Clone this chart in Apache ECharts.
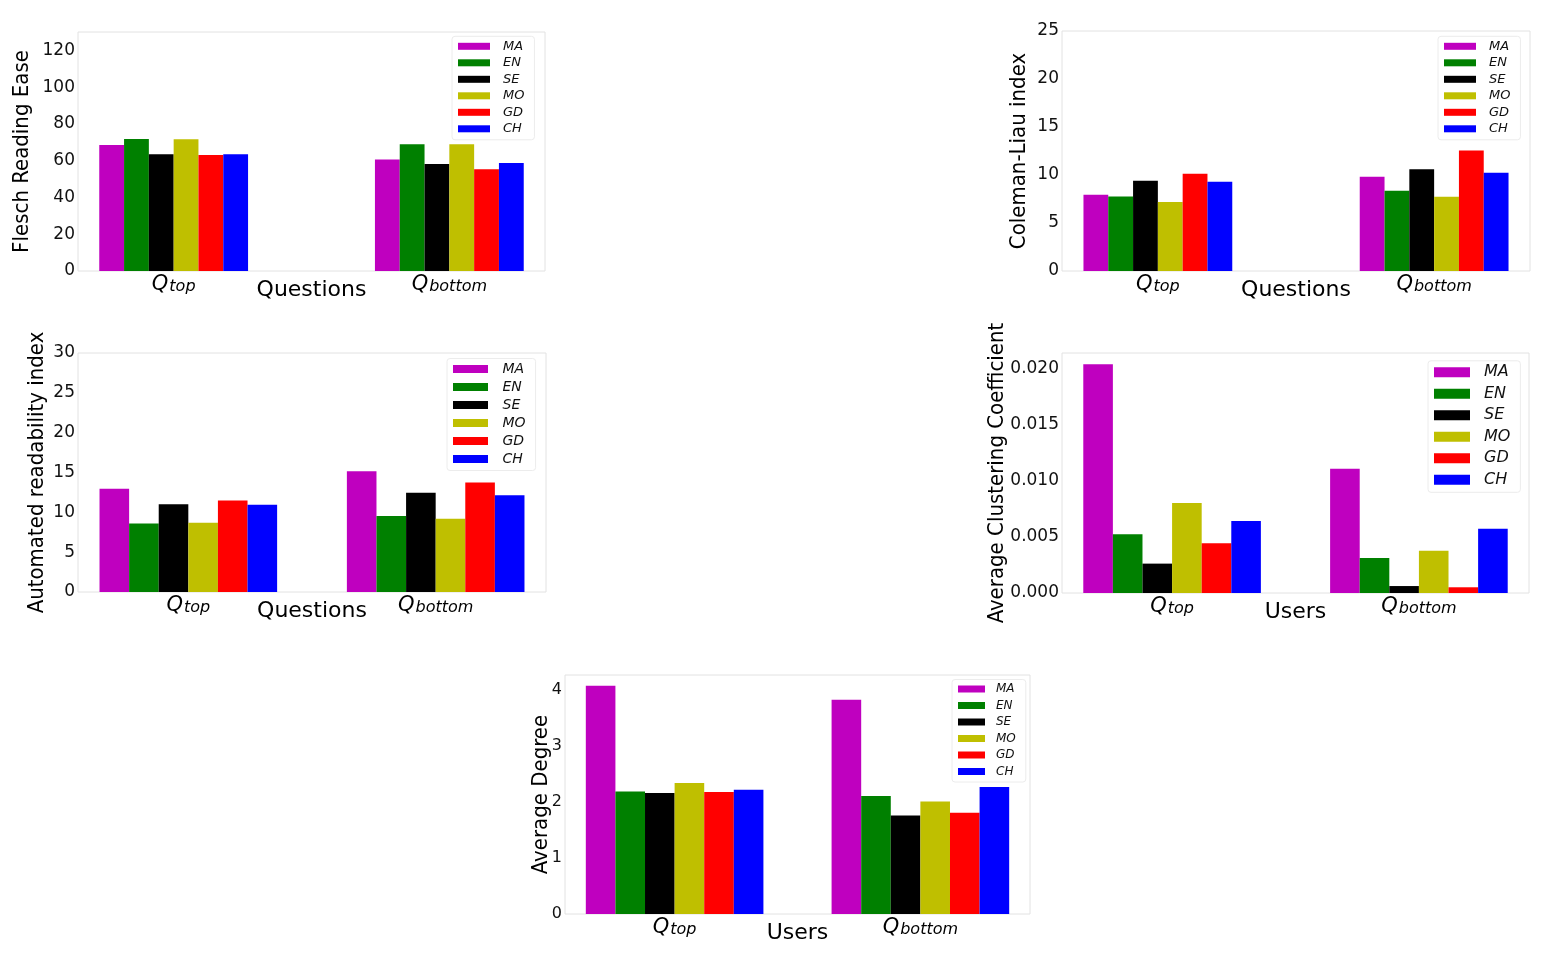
<!DOCTYPE html>
<html><head><meta charset="utf-8">
<script src="https://cdn.jsdelivr.net/npm/echarts@6/dist/echarts.min.js"></script>
<style>html,body{margin:0;padding:0;background:#fff}#c{width:1549px;height:961px}</style>
</head><body><div id="c"></div>
<script>
const categories = ['Q_top', 'Q_bottom'];
const seriesNames = ['MA', 'EN', 'SE', 'MO', 'GD', 'CH'];

const fleschTop = [68.5, 71.8, 63.5, 71.6, 63.1, 63.5];
const fleschBottom = [60.7, 68.9, 58.2, 68.9, 55.3, 58.7];
const fleschTicks = [0, 20, 40, 60, 80, 100, 120];

const colemanTop = [7.94, 7.76, 9.41, 7.2, 10.14, 9.3];
const colemanBottom = [9.83, 8.36, 10.6, 7.73, 12.55, 10.24];
const colemanTicks = [0, 5, 10, 15, 20, 25];

const ariTop = [12.97, 8.6, 11.0, 8.69, 11.5, 10.95];
const ariBottom = [15.15, 9.53, 12.46, 9.19, 13.76, 12.13];
const ariTicks = [0, 5, 10, 15, 20, 25, 30];

const clusterTop = [0.0204, 0.00523, 0.00262, 0.00802, 0.00443, 0.00642];
const clusterBottom = [0.01108, 0.00312, 0.00062, 0.00377, 0.00051, 0.00574];
const clusterTicks = [0, 0.005, 0.01, 0.015, 0.02];

const degreeTop = [4.08, 2.19, 2.16, 2.34, 2.18, 2.22];
const degreeBottom = [3.83, 2.11, 1.76, 2.01, 1.81, 2.27];
const degreeTicks = [0, 1, 2, 3, 4];

const colors = ['#bf00bf', '#008000', '#000000', '#bfbf00', '#ff0000', '#0000ff'];
const FONT = "'DejaVu Sans', sans-serif";
const COND = "'DejaVu Sans Condensed', 'DejaVu Sans', sans-serif";

const panels = [
  { top: fleschTop, bottom: fleschBottom, ticks: fleschTicks, ymax: 130, yName: 'Flesch Reading Ease', xName: 'Questions',
    grid: { left: 78, top: 32, width: 467, height: 239 }, xr: 0.347, bw: 24.8, yGap: 45, tickSize: 17, dec: 0,
    lg: { left: 452, top: 36.3, iw: 32, ih: 7, fs: 13, lh: 14, gap: 2.5, tp: 8 } },
  { top: colemanTop, bottom: colemanBottom, ticks: colemanTicks, ymax: 25, yName: 'Coleman-Liau index', xName: 'Questions',
    grid: { left: 1062, top: 31, width: 468, height: 240 }, xr: 0.347, bw: 24.8, yGap: 32, tickSize: 17, dec: 0,
    lg: { left: 1438, top: 36.3, iw: 32, ih: 7, fs: 13, lh: 14, gap: 2.5, tp: 8 } },
  { top: ariTop, bottom: ariBottom, ticks: ariTicks, ymax: 30, yName: 'Automated readability index', xName: 'Questions',
    grid: { left: 78, top: 353, width: 468, height: 239 }, xr: 0.446, bw: 29.6, yGap: 30, tickSize: 17, dec: 0,
    lg: { left: 447, top: 358.5, iw: 35, ih: 8, fs: 14, lh: 15, gap: 3, tp: 9.5 } },
  { top: clusterTop, bottom: clusterBottom, ticks: clusterTicks, ymax: 0.0214, yName: 'Average Clustering Coefficient', xName: 'Users',
    grid: { left: 1062, top: 353, width: 467, height: 240 }, xr: 0.446, bw: 29.6, yGap: 54, tickSize: 17, dec: 3,
    lg: { left: 1428, top: 360.8, iw: 36, ih: 10, fs: 16, lh: 17, gap: 4.5, tp: 9 } },
  { top: degreeTop, bottom: degreeBottom, ticks: degreeTicks, ymax: 4.27, yName: 'Average Degree', xName: 'Users',
    grid: { left: 565, top: 675, width: 465, height: 239 }, xr: 0.446, bw: 29.6, yGap: 13, tickSize: 16, dec: 0,
    lg: { left: 952, top: 679.5, iw: 27, ih: 7, fs: 12, lh: 13, gap: 3.5, tp: 6 } }
];

const grids = [], xAxes = [], yAxes = [], legends = [], series = [];
panels.forEach((p, k) => {
  grids.push(Object.assign({ show: true, borderColor: '#e2e2e2', borderWidth: 1, backgroundColor: 'transparent' }, p.grid));
  xAxes.push({
    type: 'value', gridIndex: k, min: -p.xr, max: 1 + p.xr,
    axisLine: { show: false }, axisTick: { show: false }, splitLine: { show: false },
    axisLabel: {
      customValues: [0, 1], margin: 3,
      formatter: v => { const c = categories[Math.round(v)]; const parts = c.split('_'); return '{q|' + parts[0] + '}{s|' + parts[1] + '}'; },
      rich: {
        q: { fontSize: 21, fontStyle: 'italic', fontFamily: FONT, color: '#000', lineHeight: 21, verticalAlign: 'bottom' },
        s: { fontSize: 16, fontStyle: 'italic', fontFamily: FONT, color: '#000', lineHeight: 13, verticalAlign: 'bottom', padding: [0, 0, 0, 1] }
      }
    },
    name: p.xName, nameLocation: 'middle', nameGap: 8, nameMoveOverlap: false,
    nameTextStyle: { fontSize: 22, fontFamily: FONT, color: '#000', verticalAlign: 'top' }
  });
  yAxes.push({
    type: 'value', gridIndex: k, min: 0, max: p.ymax,
    axisLine: { show: false }, axisTick: { show: false }, splitLine: { show: false },
    axisLabel: { customValues: p.ticks, margin: 3, fontSize: p.tickSize, fontFamily: FONT, color: '#111',
      formatter: v => v.toFixed(p.dec) },
    name: p.yName, nameLocation: 'middle', nameRotate: 90, nameGap: p.yGap, nameMoveOverlap: false,
    nameTextStyle: { fontSize: 22, fontFamily: COND, color: '#000' }
  });
  legends.push({
    data: seriesNames, orient: 'vertical', left: p.lg.left, top: p.lg.top,
    itemWidth: p.lg.iw, itemHeight: p.lg.ih, itemGap: p.lg.gap, icon: 'rect',
    padding: [3, 10, 4, 6], borderColor: '#ececec', borderWidth: 1, borderRadius: 3,
    selectedMode: false,
    textStyle: { fontSize: p.lg.fs, lineHeight: p.lg.lh, fontStyle: 'italic', fontFamily: FONT, color: '#111', padding: [0, 0, 0, p.lg.tp] }
  });
  seriesNames.forEach((name, i) => {
    series.push({
      type: 'bar', name: name, xAxisIndex: k, yAxisIndex: k,
      data: [[0, p.top[i]], [1, p.bottom[i]]],
      barWidth: p.bw, barGap: '0%',
      itemStyle: { color: colors[i] }
    });
  });
});

const chart = echarts.init(document.getElementById('c'));
chart.setOption({ animation: false, backgroundColor: '#fff', grid: grids, xAxis: xAxes, yAxis: yAxes, legend: legends, series: series });
</script></body></html>
